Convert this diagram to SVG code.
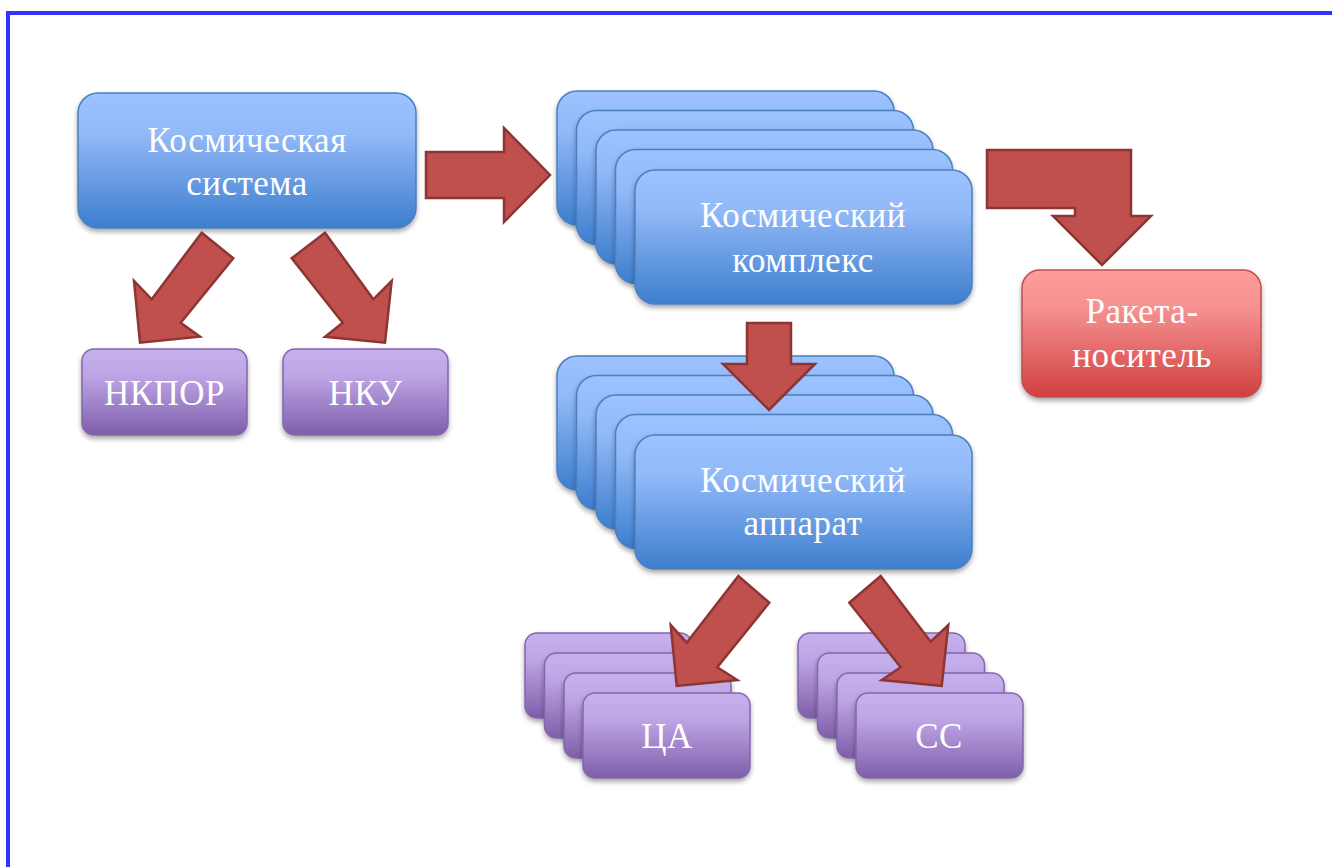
<svg xmlns="http://www.w3.org/2000/svg" width="1332" height="867" viewBox="0 0 1332 867">
<defs>
<linearGradient id="gBlue" x1="0" y1="0" x2="0" y2="1">
<stop offset="0" stop-color="#9cc2ff"/>
<stop offset="0.3" stop-color="#92b9f8"/>
<stop offset="1" stop-color="#3d7ecd"/>
</linearGradient>
<linearGradient id="gPurple" x1="0" y1="0" x2="0" y2="1">
<stop offset="0" stop-color="#c6b0ec"/>
<stop offset="0.3" stop-color="#bea6e6"/>
<stop offset="1" stop-color="#7f5eaa"/>
</linearGradient>
<linearGradient id="gRed" x1="0" y1="0" x2="0" y2="1">
<stop offset="0" stop-color="#ff9c9c"/>
<stop offset="0.3" stop-color="#f69191"/>
<stop offset="1" stop-color="#d03f3f"/>
</linearGradient>
<filter id="sh" x="-10%" y="-10%" width="120%" height="130%">
<feDropShadow dx="0" dy="3" stdDeviation="2.5" flood-color="#000" flood-opacity="0.35"/>
</filter>
</defs>
<style>
.blue{fill:url(#gBlue);stroke:#4c7fbf;stroke-width:1.5;filter:url(#sh)}
.purple{fill:url(#gPurple);stroke:#8466ab;stroke-width:1.5;filter:url(#sh)}
.red{fill:url(#gRed);stroke:#c24d4b;stroke-width:1.5;filter:url(#sh)}
.arr{fill:#c0504d;stroke:#8c3533;stroke-width:2.5;stroke-linejoin:miter}
.t{font-family:"Liberation Serif","DejaVu Serif",serif;font-size:35px;letter-spacing:0.5px;fill:#ffffff;text-anchor:middle}
</style>
<rect x="0" y="0" width="1332" height="867" fill="#ffffff"/>
<path d="M8,867 V13 H1332" fill="none" stroke="#3333ff" stroke-width="4"/>

<g id="kosm-sistema">
<rect class="blue" x="78" y="93" width="338" height="135" rx="20"/>
<text class="t" x="247" y="152">Космическая</text>
<text class="t" x="247" y="195">система</text>
</g>

<g id="nkpor">
<rect class="purple" x="82" y="349" width="165" height="86" rx="12"/>
<text class="t" x="164.5" y="405">НКПОР</text>
</g>

<g id="nku">
<rect class="purple" x="283" y="349" width="165" height="86" rx="12"/>
<text class="t" x="365.5" y="405">НКУ</text>
</g>

<g id="kosm-kompleks">
<rect class="blue" x="557" y="91" width="337" height="134" rx="20"/>
<rect class="blue" x="576.5" y="110.5" width="337" height="134" rx="20"/>
<rect class="blue" x="596" y="130" width="337" height="134" rx="20"/>
<rect class="blue" x="615.5" y="149.5" width="337" height="134" rx="20"/>
<rect class="blue" x="635" y="170" width="337" height="134" rx="20"/>
<text class="t" x="803" y="227">Космический</text>
<text class="t" x="803" y="272">комплекс</text>
</g>

<g id="raketa">
<rect class="red" x="1022" y="270" width="239" height="127" rx="18"/>
<text class="t" x="1142" y="323">Ракета-</text>
<text class="t" x="1142" y="367">носитель</text>
</g>

<g id="kosm-apparat">
<rect class="blue" x="557" y="356" width="337" height="134" rx="20"/>
<rect class="blue" x="576.5" y="375.5" width="337" height="134" rx="20"/>
<rect class="blue" x="596" y="395" width="337" height="134" rx="20"/>
<rect class="blue" x="615.5" y="414.5" width="337" height="134" rx="20"/>
<rect class="blue" x="635" y="435" width="337" height="134" rx="20"/>
<text class="t" x="803" y="492">Космический</text>
<text class="t" x="803" y="535">аппарат</text>
</g>

<g id="ca">
<rect class="purple" x="525" y="633" width="167" height="85" rx="12"/>
<rect class="purple" x="544.5" y="653" width="167" height="85" rx="12"/>
<rect class="purple" x="564" y="673" width="167" height="85" rx="12"/>
<rect class="purple" x="583" y="693" width="167" height="85" rx="12"/>
<text class="t" x="667" y="748">ЦА</text>
</g>

<g id="cc">
<rect class="purple" x="798" y="633" width="167" height="85" rx="12"/>
<rect class="purple" x="817.5" y="653" width="167" height="85" rx="12"/>
<rect class="purple" x="837" y="673" width="167" height="85" rx="12"/>
<rect class="purple" x="856" y="693" width="167" height="85" rx="12"/>
<text class="t" x="939" y="748">СС</text>
</g>

<g id="connectors">
<polygon class="arr" points="426,152 504,152 504,128 550,175 504,222 504,198 426,198"/>
<polygon class="arr" points="987,150 1131,150 1131,216 1151,216 1102,265 1053,216 1075,216 1075,208 987,208"/>
<polygon class="arr" points="747,323 791,323 791,364 815,364 769,410 723,364 747,364"/>
<polygon class="arr" points="201.7,232.7 233.3,258.3 180.7,322.7 200,336.7 140,342.7 134,281 151.7,299.3"/>
<polygon class="arr" points="325,232.7 291.7,258.3 342.7,322.7 325,336.7 385,342.7 391.7,281 373.3,299.3"/>
<polygon class="arr" points="738.3,576 769.3,602.7 717.3,667.3 737.3,680 676.7,686 670.7,625 686.7,642.7"/>
<polygon class="arr" points="880.7,576 849.3,602.7 900.7,667.3 881.7,680 941.7,686 948.3,625 930.7,641.7"/>
</g>
</svg>
